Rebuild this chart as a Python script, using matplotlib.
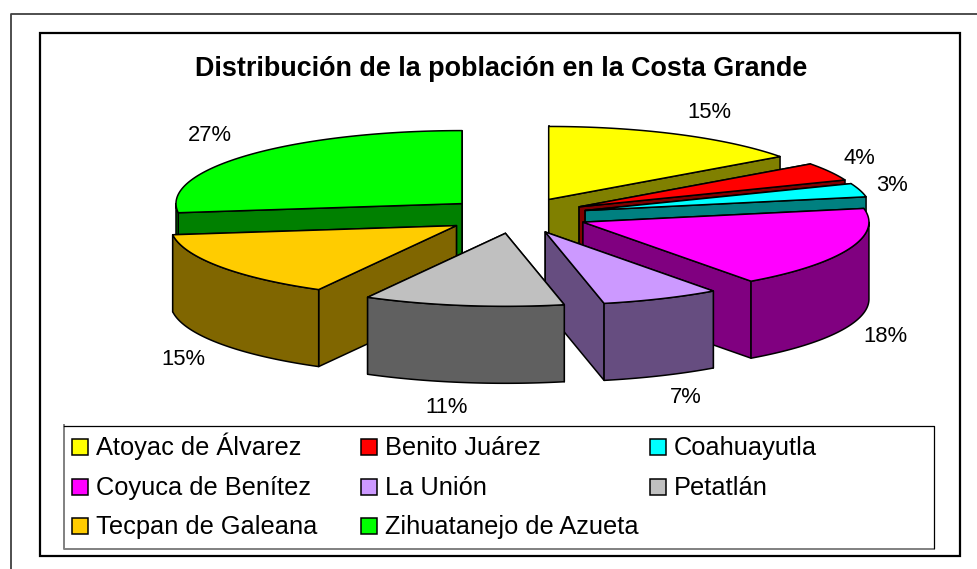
#!/usr/bin/env python3
"""Exploded 3D pie of the population of the Costa Grande, drawn in pixel coordinates."""

import numpy as np
import matplotlib
matplotlib.use("Agg")
import matplotlib.pyplot as plt
from matplotlib.patches import Rectangle

plt.rcParams['font.family'] = ['Liberation Sans', 'DejaVu Sans']

# Data
municipios = ["Atoyac de Álvarez", "Benito Juárez", "Coahuayutla",
              "Coyuca de Benítez", "La Unión", "Petatlán",
              "Tecpan de Galeana", "Zihuatanejo de Azueta"]
# the labels round them
poblacion_pct = [15, 4, 3, 18, 6.7, 11.3, 15, 27]
color_top = ["#FFFF00", "#FF0000", "#00FFFF", "#FF00FF",
             "#CC99FF", "#C0C0C0", "#FFCC00", "#00FF00"]
color_side = ["#808000", "#800000", "#008080", "#800080",
              "#664D80", "#606060", "#806600", "#008000"]

# Pie geometry (pixels)
CX, CY = 516, 215.5
RX, RY = 286, 73
EXPLODE_X, EXPLODE_Y = 72, 18
DEPTH = 77
EDGE = 1.1

# Centre of each percentage label
label_xy = [(709, 112), (859, 158), (892, 185), (885, 336),
            (686, 397), (447, 407), (183, 359), (210, 135)]


def ellipse(x0, y0, angles):
    """Points on the pie rim; angle 0 is north, growing clockwise."""
    return x0 + RX * np.sin(angles), y0 - RY * np.cos(angles)


def draw_slice(ax, a0, a1, top, side):
    mid = (a0 + a1) / 2
    x0 = CX + EXPLODE_X * np.sin(mid)
    y0 = CY - EXPLODE_Y * np.cos(mid)
    style = dict(edgecolor="black", linewidth=EDGE, joinstyle="round")

    # radial cut faces, the one further back first
    faces = []
    for a in (a0, a1):
        xe, ye = ellipse(x0, y0, np.array(a))
        faces.append((ye, xe))
    for ye, xe in sorted(faces):
        ax.fill([x0, xe, xe, x0], [y0, ye, ye + DEPTH, y0 + DEPTH],
                facecolor=side, **style)

    # outer wall: only the part of the rim that faces the viewer
    w0, w1 = max(a0, np.pi / 2), min(a1, 3 * np.pi / 2)
    if w1 > w0:
        xs, ys = ellipse(x0, y0, np.linspace(w0, w1, 80))
        ax.fill(np.r_[xs, xs[::-1]], np.r_[ys, ys[::-1] + DEPTH],
                facecolor=side, **style)

    # top face
    xs, ys = ellipse(x0, y0, np.linspace(a0, a1, 120))
    ax.fill(np.r_[x0, xs], np.r_[y0, ys], facecolor=top, **style)


def main():
    fig = plt.figure(figsize=(9.77, 5.69), dpi=100)
    ax = fig.add_axes([0, 0, 1, 1])
    ax.set_xlim(0, 977)
    ax.set_ylim(569, 0)
    ax.axis("off")

    # Page frame and chart frame
    ax.plot([10.5, 10.5, 977], [569, 13.5, 13.5], color="#404040", lw=1.3)
    ax.add_patch(Rectangle((39.5, 33), 920, 523, fill=False, edgecolor="black", linewidth=1.6))

    ax.text(501, 69, "Distribución de la población en la Costa Grande",
            ha="center", va="center", fontsize=19.35, fontweight="bold")

    # Slice angles from the values
    edges = np.r_[0, np.cumsum(poblacion_pct)] / sum(poblacion_pct) * 2 * np.pi
    mids = (edges[:-1] + edges[1:]) / 2

    # Painter's order: back of the pie first
    for i in np.argsort(-np.cos(mids)):
        draw_slice(ax, edges[i], edges[i + 1], color_top[i], color_side[i])

    for pct, (x, y) in zip(poblacion_pct, label_xy):
        ax.text(x, y, f"{pct:.0f}%", ha="center", va="center", fontsize=15.8)

    # Legend box with its grey shadow
    ax.plot([63.5, 63.5, 933.5], [425, 549, 549], color="#808080", lw=1.4, zorder=3)
    ax.plot([63.5, 933.5, 933.5], [425.5, 425.5, 548], color="black", lw=0.9, zorder=3)

    for i, (name, col) in enumerate(zip(municipios, color_top)):
        row, column = divmod(i, 3)
        sx = [72, 361, 650][column]
        sy = [439, 479, 518][row]
        ax.add_patch(Rectangle((sx, sy), 16, 16, facecolor=col, edgecolor="black", linewidth=1.1))
        ax.text(sx + 24, sy + 16, name, ha="left", va="baseline", fontsize=18.3)

    fig.savefig("out.png", dpi=100)
    plt.close(fig)


if __name__ == "__main__":
    main()
